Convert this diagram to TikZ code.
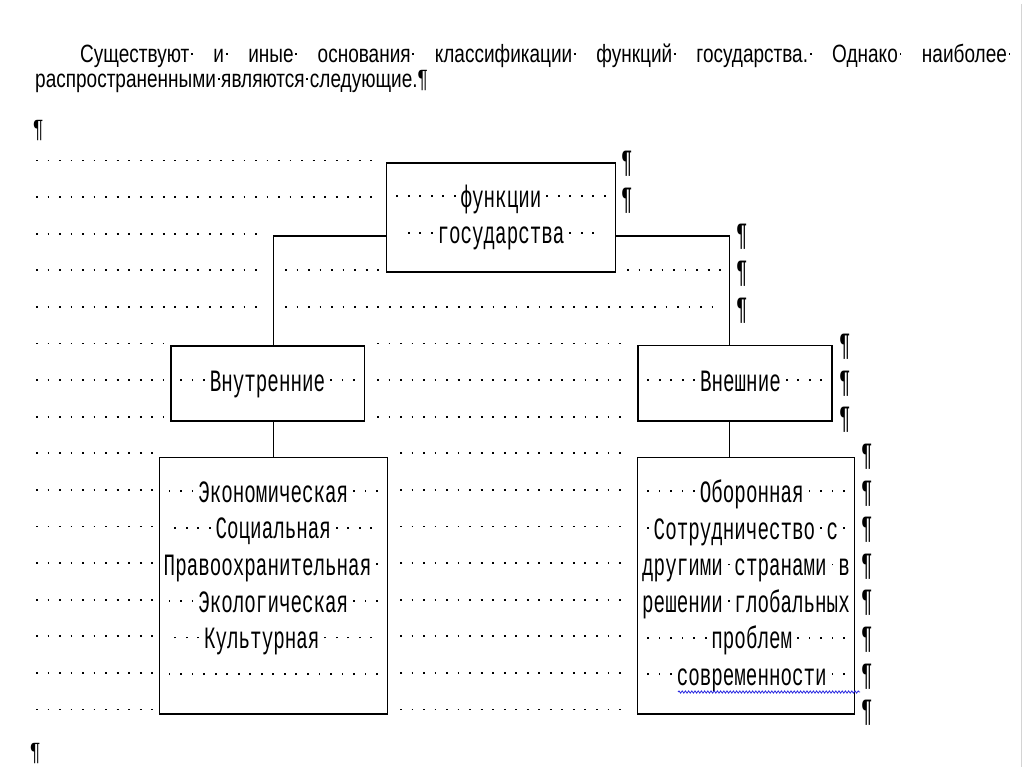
\documentclass[tikz,border=0pt]{standalone}
\usepackage{fontspec}
\usepackage{tikz}
\usetikzlibrary{positioning, decorations.pathmorphing}
\newfontfamily\cellfont[FakeStretch=0.62]{Liberation Mono}
\newfontfamily\parafont[FakeStretch=0.76]{Liberation Sans}
\definecolor{spellblue}{RGB}{45,45,225}
\definecolor{pagegray}{RGB}{212,212,212}
\newcommand{\cellsize}{\cellfont\fontsize{31}{36.6}\selectfont}
\newcommand{\parasize}{\parafont\fontsize{25}{30}\selectfont}
\newcommand{\rs}{\rule[-10.2pt]{0pt}{36.6pt}}
% space mark: a small dot in a space-wide cell
\catcode`\·=\active
\def·{\hbox to \fontcharwd\font`\ {\hss\raisebox{0.332em}{\rule{1.8pt}{1.8pt}}\hss}}

\begin{document}
\begin{tikzpicture}[x=1pt, y=-1pt,
    box/.style={draw, line width=1.6pt, inner sep=0pt, align=center, font=\cellsize},
    link/.style={line width=1.6pt},
    spc/.style={line width=1.8pt, dash pattern=on 1.8pt off 9.73pt},
    pil/.style={anchor=base west, inner sep=0pt, font=\cellsize},
    para/.style={anchor=base west, inner sep=0pt, font=\parasize}]

  \path[fill=white, use as bounding box] (0,0) rectangle (1024,767);
  \draw[pagegray, line width=1pt] (1021,4) -- (1021,767);

  % intro paragraph
  \node[para] (lead) at (80,63) {\hbox to 932pt{Существуют·\hfill и·\hfill иные·\hfill основания·\hfill классификации·\hfill функций·\hfill государства.·\hfill Однако·\hfill наиболее·}};
  \node[para] (tail) at (35,88) {распространенными·являются·следующие.¶};
  \node[para] (gap) at (33,138) {¶};
  \node[para] (endmark) at (30,760) {¶};

  % space marks of the rows
  \foreach \k in {0,1} \draw[spc] (36,{160.5+36.6*\k}) -- (380,{160.5+36.6*\k});
  \foreach \k in {2,3,4} \draw[spc] (36,{160.5+36.6*\k}) -- (264,{160.5+36.6*\k});
  \draw[spc] (285,{160.5+36.6*3}) -- (380,{160.5+36.6*3});
  \draw[spc] (627,{160.5+36.6*3}) -- (722,{160.5+36.6*3});
  \draw[spc] (285,{160.5+36.6*4}) -- (722,{160.5+36.6*4});
  \foreach \k in {5,6,7} {
    \draw[spc] (36,{160.5+36.6*\k}) -- (164,{160.5+36.6*\k});
    \draw[spc] (377,{160.5+36.6*\k}) -- (630,{160.5+36.6*\k});
  }
  \foreach \k in {8,...,15} {
    \draw[spc] (36,{160.5+36.6*\k}) -- (154,{160.5+36.6*\k});
    \draw[spc] (400,{160.5+36.6*\k}) -- (630,{160.5+36.6*\k});
  }

  % boxes
  \node[box, minimum width=229pt, minimum height=109pt] (func) at (501,217.5)
       {······функции······\rs\\···государства···\rs};
  \node[box, minimum width=193.6pt, minimum height=75pt] (inner) at (267.5,383.2)
       {···Внутренние···\rs};
  \node[box, minimum width=194pt, minimum height=75.3pt] (outer) at (734.7,383.3)
       {·····Внешние····\rs};
  \node[box, minimum width=228pt, minimum height=256.7pt] (home) at (273.3,585.7)
       {···Экономическая···\rs\\····Социальная····\rs\\Правоохранительная·\rs\\
        ···Экологическая···\rs\\···Культурная·····\rs\\···················\rs};
  \node[box, minimum width=216.7pt, minimum height=256.3pt] (abroad) at (746,585.8)
       {·····Оборонная····\rs\\·Сотрудничество·с·\rs\\другими·странами·в\rs\\
        решении·глобальных\rs\\······проблем·····\rs\\···современности··\rs};

  \coordinate (rdrop) at (729.3,0);
  \draw[link] ([yshift=-18.5pt]func.west) -| (inner.north -| home.north);
  \draw[link] ([yshift=-18.5pt]func.east) -| (outer.north -| rdrop);
  \draw[link] (inner.south -| home.north) -- (home.north);
  \draw[link] (outer.south -| rdrop) -- (abroad.north -| rdrop);

  \draw[spellblue, line width=0.8pt, decorate,
        decoration={snake, amplitude=1.1pt, segment length=3.2pt}] (678,692) -- (860,692);

  % paragraph marks
  \foreach \k in {0,1} \node[pil] (pa\k) at (621,{171.7+36.6*\k}) {¶};
  \foreach \k in {2,3,4} \node[pil] (pb\k) at (736,{171.7+36.6*\k}) {¶};
  \foreach \k in {5,6,7} \node[pil] (pc\k) at (839,{171.7+36.6*\k}) {¶};
  \foreach \k in {8,...,15} \node[pil] (pd\k) at (861,{171.7+36.6*\k}) {¶};
\end{tikzpicture}
\end{document}
